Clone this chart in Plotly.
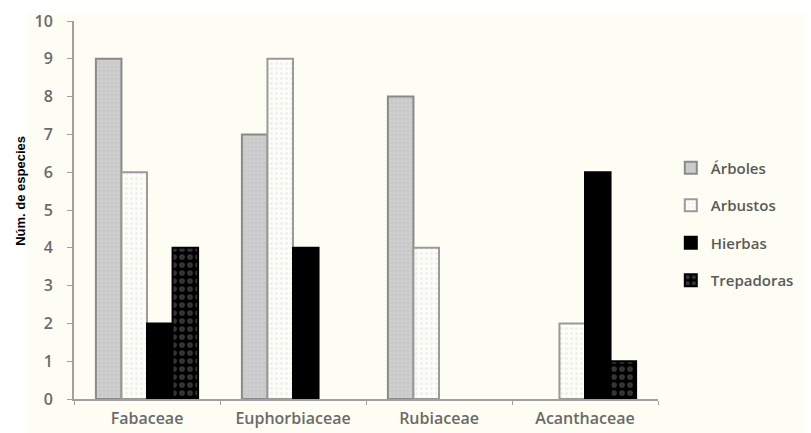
import plotly.graph_objects as go

categories = ["Fabaceae", "Euphorbiaceae", "Rubiaceae", "Acanthaceae"]
arboles = [9, 7, 8, 0]
arbustos = [6, 9, 4, 2]
hierbas = [2, 4, 0, 6]
trepadoras = [4, 0, 0, 1]
y_ticks = list(range(0, 11))

W, H = 811, 433
L, R, T, B = 74, 144, 21, 34
PW, PH = W - L - R, H - T - B

def px_x(p):
    return (p - L) / PW

def px_y(p):
    return (H - B - p) / PH

series = [
    ("Árboles", arboles, dict(shape="+", fgcolor="#b0b0b0", bgcolor="#d0d0d0", size=4, solidity=0.3), "#8a8a8a"),
    ("Arbustos", arbustos, dict(shape=".", fgcolor="#e2e2e2", bgcolor="#fdfdf8", size=5, solidity=0.3), "#9a9a9a"),
    ("Hierbas", hierbas, dict(shape="", fgcolor="#000000", bgcolor="#000000"), "#000000"),
    ("Trepadoras", trepadoras, dict(shape=".", fgcolor="#6a6a6a", bgcolor="#000000", size=8, solidity=0.4), "#000000"),
]

fig = go.Figure()
for i, (name, vals, pat, line) in enumerate(series):
    fig.add_trace(go.Bar(
        x=categories, y=[v if v else None for v in vals], name=name, legendgroup=str(i),
        marker=dict(color=pat["bgcolor"], pattern=pat, line=dict(color=line, width=2)),
    ))

cream = "#fdfdf4"
fig.update_layout(
    width=W, height=H,
    barmode="group", bargap=0.3, bargroupgap=0,
    paper_bgcolor="#ffffff", plot_bgcolor=cream,
    margin=dict(l=L, r=R, t=T, b=B),
    font=dict(family="Open Sans", color="#666666"),
    legend=dict(x=px_x(680), y=px_y(224), xanchor="left", yanchor="middle",
                font=dict(size=15, color="#5a5a5a", weight=600), tracegroupgap=15,
                bgcolor="rgba(0,0,0,0)", itemwidth=30),
    showlegend=True,
    shapes=[dict(type="rect", xref="paper", yref="paper", layer="below",
                 x0=px_x(27), x1=px_x(W + 5), y0=px_y(H + 5), y1=px_y(14),
                 fillcolor=cream, line=dict(width=0))],
    annotations=[dict(text="<b>Núm. de especies</b>", xref="paper", yref="paper",
                      x=px_x(19), y=px_y(191), textangle=-90, showarrow=False,
                      xanchor="center", yanchor="middle",
                      font=dict(family="Arial", size=13, color="#000000"))],
)
fig.update_xaxes(
    showline=True, linecolor="#a0a0a0", linewidth=2, tickson="boundaries",
    ticks="outside", ticklen=4, tickcolor="#a0a0a0", showgrid=False, automargin=False,
    ticklabelstandoff=4,
    tickfont=dict(size=16, color="#6a6a6a", weight=600),
)
fig.update_yaxes(
    range=[0, 10], tickvals=y_ticks, showline=True, linecolor="#a0a0a0", linewidth=2,
    ticks="outside", ticklen=5, tickcolor="#a0a0a0", showgrid=False, zeroline=False,
    automargin=False, ticklabelstandoff=11,
    tickfont=dict(size=16, color="#6a6a6a", weight=600),
)
fig.write_html("out.html", config={"displayModeBar": False},
               post_script="document.body.style.margin='0';")
